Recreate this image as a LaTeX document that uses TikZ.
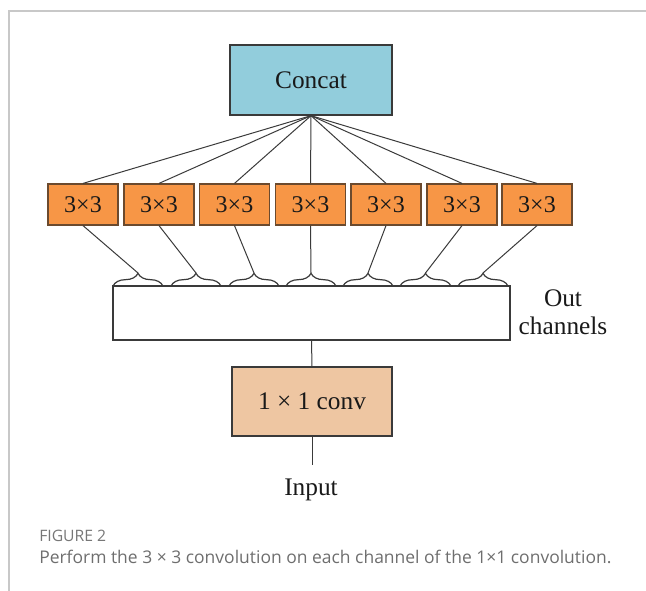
\documentclass[tikz,border=0pt]{standalone}
\usepackage{fontspec}
\setmainfont{Liberation Serif}
\newfontfamily\capfont{Open Sans}
\usetikzlibrary{decorations.pathreplacing}
\definecolor{concatfill}{HTML}{92CDDC}
\definecolor{kfill}{HTML}{F79646}
\definecolor{kdraw}{HTML}{6B4A2E}
\definecolor{convfill}{HTML}{EEC6A2}
\definecolor{edge}{HTML}{3A3A3A}
\definecolor{framecol}{HTML}{C8C8C8}
\definecolor{capgray}{HTML}{6E6E6E}
\definecolor{figgray}{HTML}{777777}
\tikzset{
  x=0.75pt, y=-0.75pt,
  diagtext/.style={font=\fontsize{19}{22}\selectfont, text=black!90},
  concatbox/.style={draw=edge, line width=1pt, fill=concatfill, minimum width=121.5pt, minimum height=52.5pt, inner sep=0pt, diagtext},
  kbox/.style={draw=kdraw, line width=0.9pt, fill=kfill, minimum width=52.5pt, minimum height=30.75pt, inner sep=0pt, font=\fontsize{18}{20}\selectfont, text=black!90},
  chanbox/.style={draw=edge, line width=0.9pt, fill=white, minimum width=297.75pt, minimum height=40.5pt, inner sep=0pt},
  convbox/.style={draw=edge, line width=0.9pt, fill=convfill, minimum width=120pt, minimum height=51.75pt, inner sep=0pt, diagtext},
  conn/.style={draw=edge, line width=0.75pt},
  bracestyle/.style={draw=edge, line width=0.9pt, decorate, decoration={brace, amplitude=9.5pt}},
}
\begin{document}
\begin{tikzpicture}
\useasboundingbox (0,0) rectangle (646,591);
% frame
\draw[framecol, line width=0.9pt] (9,591) -- (9,11) -- (646,11);
% nodes
\node[concatbox] (concat) at (311,80) {Concat};
\foreach \i/\x in {1/83,2/159,3/234.5,4/310.5,5/386,6/462,7/537}{
  \node[kbox] (k\i) at (\x,204.5) {3\texttimes 3};
}
\node[chanbox] (chan) at (311.5,313) {};
\node[convbox] (conv) at (312,401.5) {1 \texttimes{} 1 conv};
\node[diagtext, anchor=base] (input) at (311,495) {Input};
\node[diagtext, align=center, inner sep=0pt] (outlbl) at (563,312) {Out\\[-1pt]channels};
% braces
\foreach \i/\a/\b in {1/113/163,2/171/221,3/229/279,4/286/336,5/343/393,6/400/451,7/458/508}{
  \draw[bracestyle] (\a,286) -- (\b,286);
  \coordinate (t\i) at ({(\a+\b)/2},273);
}
% connectors
\foreach \i in {1,...,7}{
  \draw[conn] (concat.south) -- (k\i.north);
  \draw[conn] (k\i.south) -- (t\i);
}
\draw[conn] (chan.south) -- (conv.north);
\coordinate (inTop) at (312,465);
\draw[conn] (conv.south) -- (inTop);
% caption
\node[anchor=base west, inner sep=0pt, font=\capfont\fontsize{11.8}{13}\selectfont, text=figgray] (figlbl) at (39,541) {FIGURE 2};
\node[anchor=base west, inner sep=0pt, font=\capfont\fontsize{13.1}{15}\selectfont, text=capgray] (caption) at (39,563) {Perform the 3 \texttimes{} 3 convolution on each channel of the 1\texttimes1 convolution.};
\end{tikzpicture}
\end{document}
